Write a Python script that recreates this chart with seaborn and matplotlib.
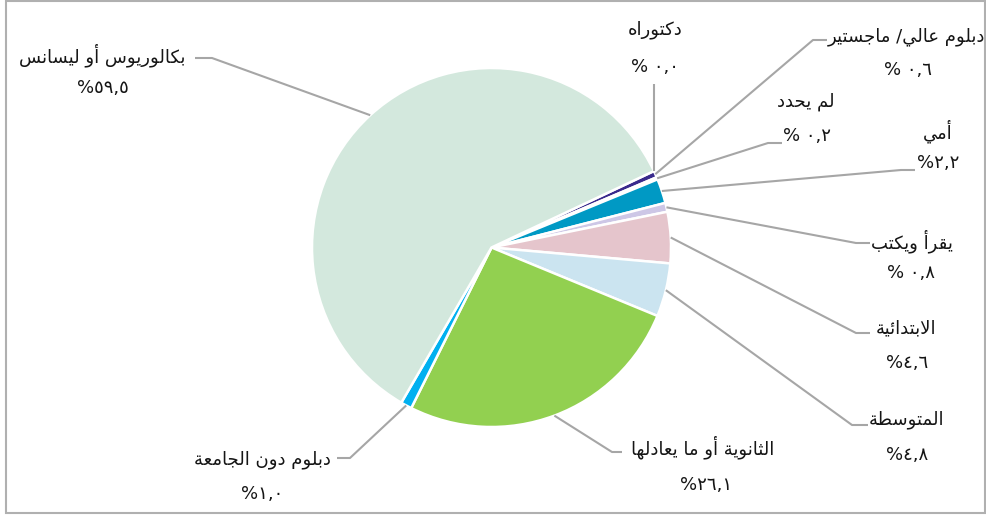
import math
import matplotlib
matplotlib.use("Agg")
import matplotlib.pyplot as plt
from matplotlib.patches import Rectangle
import seaborn as sns

# ---------------- data ----------------
categories = ["دكتوراه", "دبلوم عالي/ ماجستير", "لم يحدد", "أمي", "يقرأ ويكتب",
              "الابتدائية", "المتوسطة", "الثانوية أو ما يعادلها",
              "دبلوم دون الجامعة", "بكالوريوس أو ليسانس"]
values = [0.0, 0.6, 0.2, 2.2, 0.8, 4.6, 4.8, 26.1, 1.0, 59.5]
colors = ["#3a2a8c", "#3a2a8c", "#ecebf3", "#0099c4", "#cdc7e6",
          "#e5c5cc", "#cbe4f0", "#92d050", "#00b0f0", "#d3e8dd"]

# label layout (pixel units): name centre, percent centre, leader elbow, leader end
name_pos = [(655, 30), (906, 37), (806, 102), (938, 131), (912, 241),
            (906, 328), (907, 420), (703, 447), (262, 460), (102, 55)]
pct_pos = [(655, 67), (908, 70), (807, 136), (938, 163), (911, 273),
           (907, 363), (907, 455), (706, 485), (262, 494), (103, 88)]
elbows = [None, (813, 40), (768, 143), (901, 170), (856, 243),
          (856, 333), (852, 425), (612, 452), (350, 458), (212, 58)]
ends = [(None, 84), (827, 40), (782, 143), (915, 170), (870, 243),
        (870, 333), (868, 425), (622, 452), (337, 458), (195, 58)]

W, H = 987, 515
CX, CY, R = 491.5, 247.5, 179.5

# ---------------- minimal Arabic shaping ----------------
FORMS = {
    'ا': (0xFE8D, False), 'أ': (0xFE83, False), 'ب': (0xFE8F, True), 'ة': (0xFE93, False),
    'ت': (0xFE95, True), 'ث': (0xFE99, True), 'ج': (0xFE9D, True), 'ح': (0xFEA1, True),
    'د': (0xFEA9, False), 'ر': (0xFEAD, False), 'س': (0xFEB1, True), 'ط': (0xFEC1, True),
    'ع': (0xFEC9, True), 'ق': (0xFED5, True), 'ك': (0xFED9, True), 'ل': (0xFEDD, True),
    'م': (0xFEE1, True), 'ن': (0xFEE5, True), 'ه': (0xFEE9, True), 'و': (0xFEED, False),
    'ي': (0xFEF1, True), 'ئ': (0xFE89, True),
}
LAM_ALEF = {'ا': 0xFEFB, 'أ': 0xFEF7}


def shape(s):
    chars = list(s)
    units = []
    i = 0
    while i < len(chars):
        c = chars[i]
        if c == 'ل' and i + 1 < len(chars) and chars[i + 1] in LAM_ALEF:
            units.append(('LA', chars[i + 1]))
            i += 2
        else:
            units.append((c, None))
            i += 1

    def is_ar(u):
        return u[0] == 'LA' or u[0] in FORMS

    def dual(u):
        return u[0] != 'LA' and u[0] in FORMS and FORMS[u[0]][1]

    out = []
    for k, u in enumerate(units):
        if not is_ar(u):
            out.append(u[0])
            continue
        prev = units[k - 1] if k > 0 else None
        nxt = units[k + 1] if k + 1 < len(units) else None
        jp = prev is not None and dual(prev)
        jn = dual(u) and nxt is not None and is_ar(nxt)
        if u[0] == 'LA':
            out.append(chr(LAM_ALEF[u[1]] + (1 if jp else 0)))
        else:
            base, d = FORMS[u[0]]
            if d:
                off = 3 if (jp and jn) else 1 if jp else 2 if jn else 0
            else:
                off = 1 if jp else 0
            out.append(chr(base + off))
    return ''.join(reversed(out))


AR_DIGITS = str.maketrans("0123456789.", "٠١٢٣٤٥٦٧٨٩,")


def pct_text(v):
    num = f"{v:.1f}".translate(AR_DIGITS)
    return "%" + (" " if v < 1 else "") + num


# ---------------- figure ----------------
sns.set_theme(style="white")
plt.rcParams['font.family'] = ['DejaVu Sans']

fig = plt.figure(figsize=(W / 100, H / 100), dpi=100)
ax = fig.add_axes([0, 0, 1, 1])

wedges, _ = ax.pie(values, colors=colors, startangle=-25.2, counterclock=True,
                   center=(CX, CY), radius=R,
                   wedgeprops=dict(edgecolor="white", linewidth=1.8))
ax.set_xlim(0, W)
ax.set_ylim(H, 0)
ax.set_aspect('equal')
ax.axis('off')

line_col = "#a6a6a6"
for i, w in enumerate(wedges):
    mid = math.radians((w.theta1 + w.theta2) / 2)
    ax_ = CX + R * math.cos(mid)
    ay_ = CY + R * math.sin(mid)
    ex, ey = ends[i]
    if elbows[i] is None:
        xs, ys = [ax_, ax_], [ay_, ey]
    else:
        xs = [ax_, elbows[i][0], ex]
        ys = [ay_, elbows[i][1], ey]
    ax.plot(xs, ys, color=line_col, lw=1.5, solid_capstyle='butt', zorder=1)
    ax.text(name_pos[i][0], name_pos[i][1], shape(categories[i]), ha='center',
            va='center', fontsize=13, color="#151515")
    ax.text(pct_pos[i][0], pct_pos[i][1], pct_text(values[i]), ha='center',
            va='center', fontsize=13, color="#151515")

# outer frame
fig.patches.append(Rectangle((6 / W, 2 / H), 979 / W, 512 / H, transform=fig.transFigure,
                             fill=False, edgecolor="#b0b0b0", linewidth=1.5))

fig.savefig("out.png", dpi=100, facecolor="white")
